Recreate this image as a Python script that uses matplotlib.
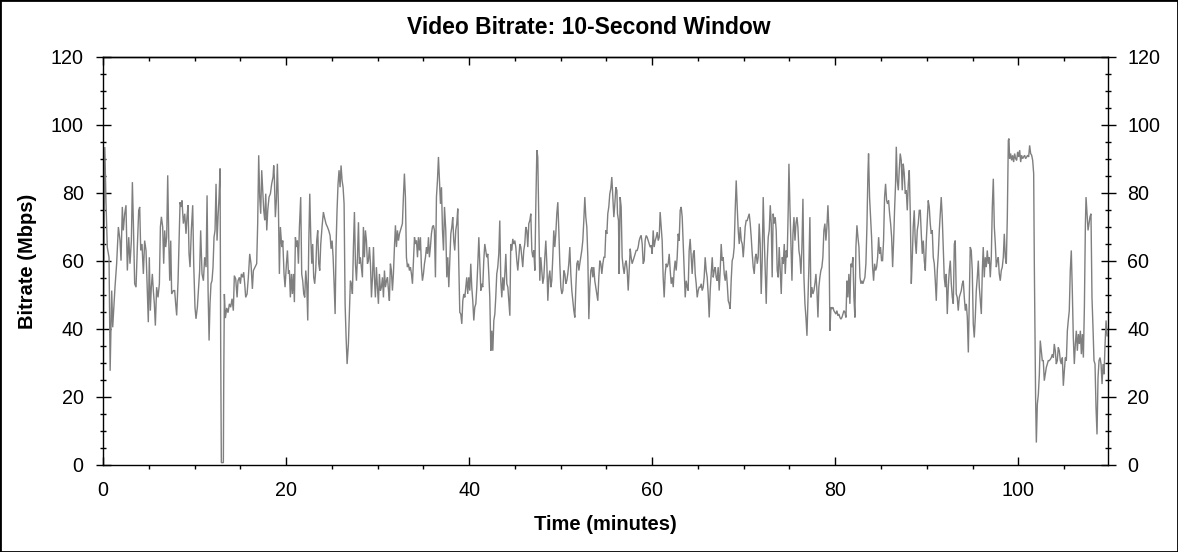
import matplotlib
matplotlib.use('Agg')
import matplotlib.pyplot as plt
from matplotlib.ticker import MultipleLocator
from matplotlib.patches import Rectangle

plt.rcParams['font.family'] = ['Liberation Sans', 'DejaVu Sans']

# (time in minutes, bitrate in Mbps)
seg_0_18 = [(0.00,0),(0.05,40),(0.20,93.5),(0.33,77),(0.47,64),(0.66,61),(0.78,27.7),(0.95,51.3),(1.06,40.5),(1.20,47.4),(1.31,52.3),(1.49,59.2),(1.68,70),(1.86,66),(1.97,60.1),(2.11,75.9),(2.22,69),(2.37,73.9),(2.51,76.4),(2.66,57.2),(2.81,67),(2.95,59.2),(3.10,66),(3.21,83.2),(3.32,71),(3.46,53.3),(3.61,52.3),(3.75,64.1),(3.90,74.9),(4.01,75.9),(4.12,63.1),(4.26,65),(4.41,56.2),(4.55,66),(4.70,63.1),(4.84,51.3),(4.95,42),(5.06,61.1),(5.17,45.4),(5.28,52.3),(5.39,56.2),(5.50,51.3),(5.61,47.4),(5.72,41),(5.86,52.3),(6.01,49.3),(6.16,53.3),(6.27,70),(6.38,73),(6.52,70),(6.63,59.2),(6.74,69),(6.85,64.1),(6.96,67),(7.07,85.2),(7.18,67),(7.29,54.2),(7.40,66),(7.50,50.3),(7.69,51.3),(7.83,51.3),(7.94,47.4),(8.05,44),(8.20,54.2),(8.31,66),(8.42,77.3),(8.53,75.9),(8.63,77.8),(8.78,71),(8.93,73.9),(9.07,68),(9.18,73),(9.29,76.4),(9.40,62.1),(9.51,58.2),(9.65,69),(9.80,76.4),(9.91,59.2),(10.05,46.4),(10.16,43),(10.31,46.4),(10.42,51.3),(10.56,57.2),(10.67,69),(10.82,56.2),(10.97,54.2),(11.11,61.1),(11.26,58.2),(11.37,79.3),(11.48,51.3),(11.59,36.6),(11.69,47.4),(11.80,53.3),(11.91,54.2),(12.02,58.2),(12.13,67),(12.24,69),(12.35,82.7),(12.46,66),(12.57,73),(12.68,78.8),(12.79,87.2),(12.86,33.6),(12.93,0.7),(13.15,0.7),(13.19,24.8),(13.26,50.3),(13.37,43.2),(13.52,46.2),(13.66,44.8),(13.81,47.4),(13.95,46.4),(14.10,48.9),(14.24,45.4),(14.35,55.7),(14.50,54.7),(14.65,49.3),(14.75,54.2),(14.90,55.2),(15.01,53.3),(15.12,56.2),(15.26,55.2),(15.37,56.7),(15.48,53.3),(15.59,49.3),(15.74,50.3),(15.88,55.2),(16.03,62.1),(16.17,59.2),(16.32,51.8),(16.43,57.2),(16.61,58.2),(16.79,59.2),(16.90,71),(17.01,91.1),(17.12,78.8),(17.23,73.9),(17.34,86.7),(17.45,80.8),(17.56,74.9),(17.67,72),(17.78,79.8),(17.89,69),(18.00,74.9),(18.14,78.8),(18.29,79.8),(18.43,82.7),(18.58,84.7),(18.65,88.1)]

seg_18_37 = [(18.72,84.7),(18.83,72.9),(18.94,77.8),(19.05,88.6),(19.16,76.8),(19.27,56.2),(19.38,70),(19.53,64.1),(19.64,66),(19.78,56.2),(19.89,52.3),(20.04,59.2),(20.15,63.1),(20.26,56.2),(20.36,57.2),(20.47,49.3),(20.58,56.2),(20.69,50.3),(20.80,56.2),(20.91,47.9),(21.02,67),(21.13,64.1),(21.24,66),(21.35,59.2),(21.46,70),(21.60,78.8),(21.71,56.2),(21.82,54.2),(21.93,50.3),(22.04,49.3),(22.15,57.2),(22.26,53.3),(22.37,42.5),(22.48,65),(22.59,79.8),(22.70,67),(22.81,59.2),(22.91,65),(23.02,55.2),(23.13,53.3),(23.24,57.2),(23.35,66),(23.46,69),(23.57,59.2),(23.68,57.2),(23.79,65),(23.93,70),(24.08,74.4),(24.19,72.9),(24.37,70.9),(24.52,70),(24.66,69),(24.81,67.5),(24.92,63.6),(25.03,66),(25.14,61.1),(25.25,53.3),(25.36,44.4),(25.46,64.1),(25.57,74.9),(25.68,82.7),(25.79,86.7),(25.90,81.7),(26.01,88.1),(26.12,83.7),(26.23,81.7),(26.34,76.8),(26.45,47.4),(26.56,37.5),(26.67,29.7),(26.81,35.6),(26.92,45.4),(27.03,54.2),(27.14,53.3),(27.25,50.3),(27.36,64.1),(27.47,74.4),(27.58,59.2),(27.69,54.2),(27.80,61.1),(27.91,71.4),(28.01,59.2),(28.12,61.1),(28.23,58.2),(28.34,55.2),(28.45,70),(28.56,61.1),(28.67,69),(28.78,66),(28.89,59.2),(29.00,60.1),(29.11,64.1),(29.22,59.2),(29.33,49.3),(29.44,55.2),(29.55,64.1),(29.65,55.2),(29.76,49.3),(29.87,58.2),(29.98,52.3),(30.09,47.4),(30.20,56.2),(30.31,51.3),(30.42,52.3),(30.53,55.2),(30.64,49.3),(30.75,57.2),(30.86,52.3),(30.97,54.2),(31.08,55.2),(31.19,51.3),(31.29,48.3),(31.40,59.2),(31.51,57.2),(31.62,51.3),(31.73,56.2),(31.84,64.1),(31.95,70.5),(32.06,64.1),(32.17,69),(32.28,66),(32.39,68),(32.50,69),(32.61,70),(32.71,71),(32.82,78.8),(32.93,85.7),(33.04,78.8),(33.15,61.1),(33.26,58.2),(33.37,59.2),(33.48,57.2),(33.59,58.2),(33.70,56.2),(33.81,53.3),(33.92,60.1),(34.03,67),(34.14,65),(34.25,66),(34.36,61.1),(34.46,67),(34.57,63.1),(34.68,67),(34.79,58.2),(34.90,54.2),(35.01,56.2),(35.12,59.2),(35.23,61.1),(35.34,64.1),(35.45,62.1),(35.56,67),(35.66,61.1),(35.77,64.1),(35.88,68),(35.99,70),(36.10,70.5),(36.21,69),(36.32,55.2),(36.43,78.8),(36.54,83.7),(36.65,90.6),(36.76,83.7),(36.87,76.8),(36.98,81.7),(37.09,69),(37.20,63.1),(37.31,75.9)]

seg_37_56 = [(37.45,69),(37.56,55.2),(37.67,61.1),(37.78,52.3),(37.89,60.1),(38.00,68),(38.11,70),(38.21,72.9),(38.32,66),(38.43,63.1),(38.54,69),(38.65,71),(38.76,75.4),(38.87,59.2),(38.98,44.9),(39.09,44.4),(39.20,41.5),(39.31,48.3),(39.42,50.3),(39.53,49.3),(39.64,52.3),(39.74,55.2),(39.85,50.3),(39.96,55.2),(40.07,51.3),(40.18,59.2),(40.29,52.3),(40.40,48.3),(40.51,42.5),(40.62,46.4),(40.73,47.4),(40.84,52.3),(40.95,59.2),(41.06,67),(41.17,59.2),(41.28,51.3),(41.38,53.3),(41.49,52.3),(41.60,60.1),(41.71,65),(41.82,63.1),(41.93,61.1),(42.04,62.1),(42.15,56.2),(42.26,49.3),(42.37,33.6),(42.48,39.5),(42.59,33.6),(42.70,42.5),(42.81,44.4),(42.91,49.3),(43.02,56.2),(43.13,58.2),(43.24,62.1),(43.35,71.9),(43.46,54.2),(43.57,49.3),(43.68,55.2),(43.79,51.3),(43.90,56.2),(44.01,62.1),(44.12,53.3),(44.23,52.3),(44.34,48.3),(44.45,43.9),(44.55,65),(44.66,63.1),(44.77,66.5),(44.88,65),(44.99,66),(45.10,64.1),(45.21,60.1),(45.32,57.2),(45.43,61.1),(45.54,65),(45.65,64.1),(45.76,61.1),(45.86,58.2),(45.97,63.1),(46.08,65),(46.19,70),(46.30,69),(46.41,64.1),(46.52,71),(46.63,71.9),(46.74,73.9),(46.85,63.1),(46.96,61.1),(47.07,63.1),(47.18,57.2),(47.29,76.8),(47.40,92.6),(47.50,90.6),(47.61,72.9),(47.72,54.2),(47.83,61.1),(47.94,57.2),(48.05,53.3),(48.16,55.2),(48.27,61.1),(48.38,66),(48.49,59.2),(48.60,48.3),(48.71,55.2),(48.82,57.2),(48.93,52.3),(49.03,54.2),(49.14,61.1),(49.25,69),(49.36,64.1),(49.47,68),(49.58,73.9),(49.69,77.3),(49.80,69),(49.91,59.2),(50.02,52.3),(50.13,50.3),(50.24,51.3),(50.35,57.2),(50.46,56.2),(50.56,53.3),(50.67,54.2),(50.78,56.2),(50.89,59.2),(51.00,64.1),(51.11,56.2),(51.22,51.3),(51.33,48.3),(51.44,45.4),(51.55,43.4),(51.66,52.3),(51.77,59.2),(51.88,60.1),(51.99,57.2),(52.09,59.2),(52.20,61.1),(52.31,63.1),(52.42,66),(52.53,71.9),(52.64,78.8),(52.75,72.9),(52.86,70),(52.97,61.1),(53.08,42.9),(53.19,52.3),(53.30,57.2),(53.41,58.2),(53.52,55.2),(53.62,58.2),(53.73,54.2),(53.84,52.3),(53.95,50.3),(54.06,48.3),(54.17,55.2),(54.28,60.1),(54.39,59.2),(54.50,56.2),(54.61,59.2),(54.72,61.1),(54.83,61.1),(54.94,69),(55.05,68),(55.15,73.9),(55.26,75.9),(55.37,79.8),(55.48,81.3),(55.59,84.7),(55.70,78.8),(55.81,72.9),(55.92,76.8)]

seg_56_74 = [(56.03,81.7),(56.14,80.8),(56.21,73.9),(56.32,71.9),(56.39,56.2),(56.50,78.8),(56.61,75.9),(56.72,61.1),(56.83,58.2),(56.94,56.2),(57.05,59.2),(57.16,60.1),(57.27,57.2),(57.38,51.3),(57.49,57.2),(57.60,63.6),(57.70,61.1),(57.81,59.2),(57.92,60.1),(58.03,61.1),(58.14,62.1),(58.25,63.1),(58.36,63.1),(58.47,64.1),(58.58,66),(58.69,67),(58.80,67.5),(58.91,65),(59.02,59.2),(59.13,60.1),(59.23,66),(59.34,67.5),(59.45,67),(59.56,66),(59.67,65),(59.78,64.1),(59.89,64.6),(60.00,62.1),(60.11,69),(60.22,64.1),(60.33,66),(60.44,67),(60.55,68.5),(60.66,66),(60.77,67),(60.87,74.4),(60.98,70),(61.09,66),(61.20,55.2),(61.31,49.3),(61.42,56.2),(61.53,59.2),(61.64,58.2),(61.75,59.2),(61.86,62.1),(61.97,57.2),(62.08,53.3),(62.19,55.2),(62.30,52.3),(62.40,57.2),(62.51,60.1),(62.62,57.2),(62.73,61.1),(62.84,68),(62.95,66),(63.06,74.9),(63.17,75.9),(63.28,72.9),(63.39,65),(63.50,57.2),(63.61,49.3),(63.72,54.2),(63.83,52.3),(63.93,51.3),(64.04,63.1),(64.15,66.5),(64.26,61.1),(64.37,56.2),(64.48,62.1),(64.59,63.1),(64.70,56.2),(64.81,53.3),(64.92,49.3),(65.03,51.3),(65.14,52.3),(65.25,52.3),(65.36,53.3),(65.46,51.3),(65.57,52.3),(65.68,55.2),(65.79,61.1),(65.90,57.2),(66.01,55.2),(66.12,50.3),(66.23,43.4),(66.34,51.3),(66.45,56.2),(66.56,61.1),(66.67,55.2),(66.78,57.2),(66.89,58.2),(66.99,55.2),(67.10,54.2),(67.21,58.2),(67.32,51.3),(67.43,57.2),(67.54,65),(67.65,60.1),(67.76,61.1),(67.87,56.2),(67.98,54.2),(68.09,57.2),(68.20,53.3),(68.31,48.3),(68.42,47.4),(68.52,45.9),(68.63,54.2),(68.74,60.1),(68.85,61.1),(68.96,64.1),(69.07,74.9),(69.18,83.7),(69.29,75.9),(69.40,69),(69.51,65),(69.62,70),(69.73,66),(69.84,65),(69.95,61.1),(70.05,65),(70.16,70),(70.27,71.9),(70.38,71.9),(70.49,72.9),(70.60,73.9),(70.71,71),(70.82,67),(70.93,62.1),(71.04,58.2),(71.15,56.2),(71.26,61.1),(71.37,62.1),(71.48,59.2),(71.58,61.1),(71.69,71),(71.80,65),(71.91,50.3),(72.02,60.1),(72.13,78.8),(72.24,67),(72.35,57.2),(72.46,47.4),(72.57,60.1),(72.68,67),(72.79,69),(72.90,76.4),(73.01,71),(73.11,55.2),(73.22,73.9),(73.33,71),(73.44,72.9),(73.55,69),(73.66,57.2),(73.77,55.2),(73.88,64.1),(73.99,57.2),(74.10,50.3),(74.21,61.1),(74.32,59.2),(74.43,65)]

seg_74_93 = [(74.54,56.2),(74.65,63.1),(74.75,61.1),(74.86,74.9),(74.94,88.6),(75.05,75.9),(75.16,65),(75.27,54.2),(75.38,68),(75.49,72.9),(75.60,66),(75.71,71),(75.82,72.9),(75.92,70),(76.03,63.1),(76.14,61.1),(76.25,56.2),(76.36,64.1),(76.47,78.3),(76.58,55.2),(76.69,47.4),(76.80,43.4),(76.91,38),(77.01,47.4),(77.12,58.2),(77.23,72.9),(77.34,49.3),(77.45,52.3),(77.56,50.3),(77.67,51.3),(77.78,53.3),(77.89,56.2),(78.00,51.3),(78.11,43.4),(78.21,52.3),(78.32,55.2),(78.43,57.2),(78.54,58.2),(78.65,61.1),(78.76,69),(78.87,71),(78.98,66),(79.09,70),(79.20,76.4),(79.31,69),(79.42,39.5),(79.53,46.4),(79.64,45.9),(79.75,46.4),(79.85,45.4),(79.96,44.9),(80.07,44.4),(80.18,45.4),(80.29,43.9),(80.40,44.4),(80.51,43.4),(80.62,42.9),(80.73,43.4),(80.84,44.4),(80.95,45.4),(81.06,44.9),(81.17,43.4),(81.28,54.2),(81.38,49.3),(81.49,56.2),(81.60,47.4),(81.71,59.2),(81.82,58.2),(81.93,61.1),(82.04,49.3),(82.15,43.4),(82.26,64.1),(82.37,70.5),(82.48,67),(82.59,64.1),(82.70,55.2),(82.81,53.3),(82.91,54.2),(83.02,53.3),(83.13,54.2),(83.24,55.2),(83.35,59.2),(83.46,70),(83.57,85.7),(83.64,91.6),(83.75,78.8),(83.86,72.9),(83.97,67),(84.08,58.2),(84.19,54.2),(84.30,59.2),(84.41,57.2),(84.52,58.2),(84.63,61.1),(84.74,67),(84.85,62.1),(84.95,64.1),(85.06,60.1),(85.17,60.1),(85.28,66),(85.39,78.8),(85.50,82.7),(85.61,77.8),(85.72,76.8),(85.83,77.8),(85.94,73.9),(86.05,71),(86.16,67),(86.27,58.2),(86.38,66),(86.48,74.9),(86.59,82.7),(86.67,93.6),(86.78,83.7),(86.89,80.8),(86.99,86.7),(87.10,91.6),(87.21,89.6),(87.32,80.8),(87.43,88.6),(87.54,85.7),(87.65,79.8),(87.76,80.8),(87.87,74.9),(87.98,82.7),(88.09,86.7),(88.20,73.9),(88.31,53.3),(88.42,61.1),(88.52,70),(88.63,74.9),(88.74,66),(88.85,62.1),(88.96,69),(89.07,71),(89.18,74.9),(89.29,74.9),(89.40,68),(89.51,62.1),(89.62,66),(89.73,60.1),(89.84,57.2),(89.95,66),(90.05,71.9),(90.16,77.8),(90.27,75.9),(90.38,71),(90.49,68),(90.60,69),(90.71,61.1),(90.82,59.2),(90.93,54.2),(91.04,48.3),(91.15,57.2),(91.26,62.1),(91.37,69),(91.48,73.9),(91.58,78.8),(91.69,72.9),(91.80,64.1),(91.91,55.2),(92.02,52.3),(92.13,56.2),(92.24,44.4),(92.35,52.3),(92.46,57.2),(92.57,60.1),(92.68,53.3),(92.79,49.3),(92.90,47.4),(93.01,65),(93.11,66)]

seg_93_110 = [(93.22,50.3),(93.33,49.3),(93.44,45.4),(93.55,49.3),(93.66,50.3),(93.77,51.3),(93.88,53.3),(93.99,54.2),(94.10,49.3),(94.21,45.4),(94.32,47.4),(94.43,43.4),(94.54,33.1),(94.65,49.3),(94.75,64.1),(94.86,63.1),(94.97,57.2),(95.08,41.5),(95.19,37.5),(95.30,43.4),(95.41,51.3),(95.52,55.2),(95.63,60.1),(95.74,52.3),(95.85,48.3),(95.96,44.4),(96.07,57.2),(96.17,64.1),(96.28,55.2),(96.39,61.1),(96.50,58.2),(96.61,63.1),(96.72,59.2),(96.83,61.1),(96.94,55.2),(97.05,61.1),(97.16,75.9),(97.27,84.2),(97.38,70),(97.49,65),(97.60,58.2),(97.70,60.1),(97.81,61.1),(97.92,56.2),(98.03,54.2),(98.14,57.2),(98.25,58.2),(98.36,61.1),(98.47,68),(98.58,61.1),(98.69,59.2),(98.80,72.9),(98.91,95.5),(98.98,96),(99.05,90.1),(99.16,91.6),(99.27,89.6),(99.38,91.1),(99.49,89.1),(99.60,91.6),(99.71,90.1),(99.82,89.6),(99.93,92.1),(100.04,90.6),(100.15,92.6),(100.26,89.1),(100.36,91.1),(100.47,90.1),(100.58,90.6),(100.69,91.1),(100.80,90.1),(100.91,90.6),(101.02,91.1),(101.13,90.6),(101.24,94),(101.35,91.6),(101.46,91.1),(101.57,89.6),(101.68,85.7),(101.75,59.2),(101.82,39.5),(101.89,19.9),(101.97,6.6),(102.08,17.9),(102.19,20.8),(102.30,26.7),(102.40,36.6),(102.51,33.6),(102.62,30.7),(102.73,30.7),(102.84,24.8),(102.95,26.7),(103.06,28.7),(103.17,29.7),(103.28,30.7),(103.39,30.7),(103.50,31.1),(103.61,31.6),(103.72,32.6),(103.83,31.6),(103.93,35.6),(104.04,33.6),(104.15,29.7),(104.26,30.7),(104.37,34.6),(104.48,33.6),(104.59,30.7),(104.70,29.7),(104.81,31.6),(104.92,23.3),(105.03,27.7),(105.14,31.6),(105.25,30.7),(105.36,39.5),(105.46,42.5),(105.57,45.4),(105.68,57.2),(105.79,63.1),(105.90,51.3),(106.01,37.5),(106.12,29.7),(106.23,35.6),(106.34,39.5),(106.45,33.6),(106.56,38.5),(106.67,35.6),(106.78,39.5),(106.89,32.6),(107.00,38.5),(107.11,31.6),(107.22,46.4),(107.33,70.9),(107.40,78.8),(107.51,73.9),(107.62,69),(107.73,71),(107.83,73),(107.94,73.9),(108.05,49.3),(108.16,40.5),(108.27,30.7),(108.38,29.7),(108.49,16.9),(108.60,9),(108.71,25.7),(108.82,30.7),(108.93,31.6),(109.04,29.7),(109.15,23.8),(109.26,29.7),(109.37,26.7),(109.48,35.6),(109.59,42.5),(109.70,38)]

title = "Video Bitrate: 10-Second Window"
x_label = "Time (minutes)"
y_label = "Bitrate (Mbps)"
x_ticks = [0, 20, 40, 60, 80, 100]
y_ticks = [0, 20, 40, 60, 80, 100, 120]

points = seg_0_18 + seg_18_37 + seg_37_56 + seg_56_74 + seg_74_93 + seg_93_110
time_min = [p[0] for p in points]
bitrate = [p[1] for p in points]

W, H = 1178, 552
fig = plt.figure(figsize=(W / 100, H / 100), dpi=100)
L, R, T, B = 103, 1108, 57, 465
ax = fig.add_axes([L / W, 1 - B / H, (R - L) / W, (B - T) / H])

ax.plot(time_min, bitrate, color='#7f7f7f', lw=1.0, solid_joinstyle='miter')

ax.set_xlim(0, 109.8)
ax.set_ylim(0, 120)
ax.set_xticks(x_ticks)
ax.set_yticks(y_ticks)
ax.xaxis.set_minor_locator(MultipleLocator(5))
ax.yaxis.set_minor_locator(MultipleLocator(5))

for s in ax.spines.values():
    s.set_linewidth(1.0)
    s.set_color('black')

ax.tick_params(axis='y', which='major', direction='inout', length=10.8, width=1.0,
               labelsize=14.2, left=True, right=True, labelleft=True, labelright=True, pad=8.5)
ax.tick_params(axis='y', which='minor', direction='inout', length=4.3, width=1.0,
               left=True, right=True)
ax.tick_params(axis='x', which='major', direction='in', length=5.8, width=1.0,
               labelsize=14.2, top=False, pad=11.5)
ax.tick_params(axis='x', which='minor', direction='out', length=2.9, width=1.0, top=False)

sec = ax.secondary_xaxis('top')
sec.set_xticks(x_ticks)
sec.xaxis.set_minor_locator(MultipleLocator(5))
sec.tick_params(which='major', direction='in', length=5.8, width=1.0, labeltop=False)
sec.tick_params(which='minor', direction='in', length=2.9, width=1.0)
sec.spines['top'].set_linewidth(1.0)

ax.set_xlabel(x_label, fontsize=14.5, fontweight='bold')
ax.xaxis.label.set_verticalalignment('center')
ax.xaxis.set_label_coords(0.5, (B - 525) / (B - T))
ax.set_ylabel(y_label, fontsize=14.5, fontweight='bold')
ax.yaxis.label.set_verticalalignment('center')
ax.yaxis.set_label_coords((27 - L) / (R - L), 0.5)

fig.suptitle(title, x=589 / W, y=1 - 28 / H, va='center', ha='center',
             fontsize=16.5, fontweight='bold')

fig.add_artist(Rectangle((0, 0), 1, 1, transform=fig.transFigure, fill=False,
                         edgecolor='black', lw=2))

fig.savefig('out.png', dpi=100)
